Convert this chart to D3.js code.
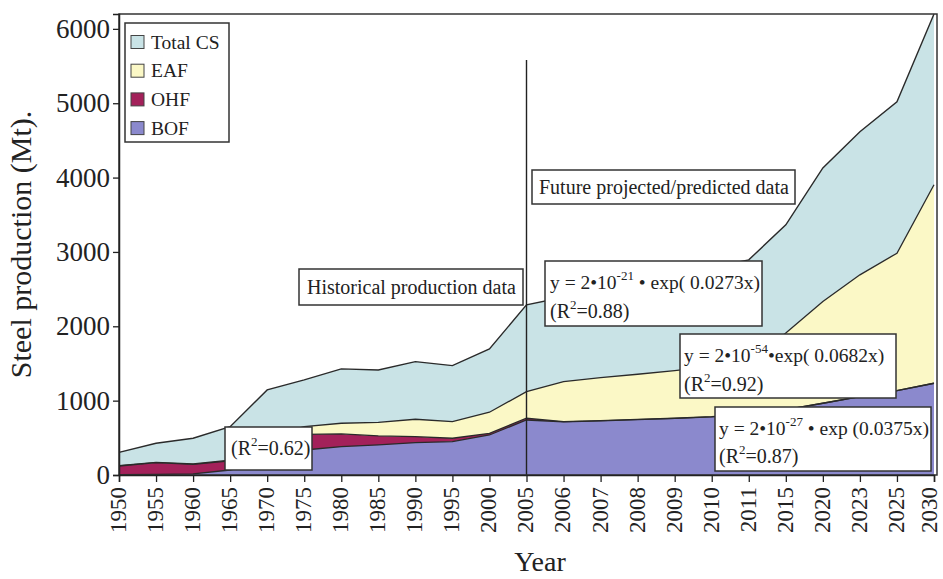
<!DOCTYPE html>
<html>
<head>
<meta charset="utf-8">
<script src="https://cdn.jsdelivr.net/npm/d3@7/dist/d3.min.js"></script>
<style>
  html, body { margin: 0; padding: 0; background: #fff; }
  svg { display: block; font-family: "Liberation Serif", "Times New Roman", serif; }
</style>
</head>
<body>
<svg id="chart" width="943" height="579"></svg>
<script>
// Year categories on the x axis (uneven spacing in real time, even on the chart)
const years = ["1950","1955","1960","1965","1970","1975","1980","1985","1990","1995","2000",
  "2005","2006","2007","2008","2009","2010","2011","2015","2020","2023","2025","2030"];

// Crude steel production, Mt
const totalCS = [305, 427, 494, 650, 1144, 1279, 1427, 1413, 1525, 1471, 1696,
  2288, 2390, 2480, 2590, 2680, 2790, 2894, 3365, 4130, 4617, 5020, 6200];
const bof = [5, 8, 15, 67, 200, 336, 381, 404, 435, 449, 538,
  740, 714, 728, 746, 761, 783, 819, 880, 965, 1054, 1135, 1234];
const ohf = [116, 158, 129, 123, 200, 211, 171, 121, 81, 45, 23,
  23, 4, 3, 3, 2, 2, 1, 0, 0, 0, 0, 0];
const eaf = [4, 4, 6, 10, 120, 103, 144, 184, 234, 224, 283,
  358, 538, 579, 606, 641, 675, 710, 1031, 1368, 1638, 1848, 2669];

const yTicks = [0, 1000, 2000, 3000, 4000, 5000, 6000];

const legendItems = [
  { key: "Total CS", color: "#c9e3e6" },
  { key: "EAF", color: "#fbf8c6" },
  { key: "OHF", color: "#a3215a" },
  { key: "BOF", color: "#8b89cd" }
];
const colorOf = Object.fromEntries(legendItems.map(d => [d.key, d.color]));

const rows = years.map((y, i) => ({ year: y, BOF: bof[i], OHF: ohf[i], EAF: eaf[i], total: totalCS[i] }));

const svg = d3.select("#chart");
const plotLeft = 119, plotRight = 937, plotTop = 14, plotBottom = 475;
const serif = "Liberation Serif, Times New Roman, serif";

const x = d3.scalePoint().domain(years).range([plotLeft, plotRight - 3]);
const y = d3.scaleLinear().domain([0, 6200]).range([plotBottom, plotTop]);

// Total area first, component layers stacked above it
const totalArea = d3.area().x(d => x(d.year)).y0(y(0)).y1(d => y(d.total));
svg.append("path").datum(rows).attr("d", totalArea).attr("fill", colorOf["Total CS"]);

const stack = d3.stack().keys(["BOF", "OHF", "EAF"]);
const layers = stack(rows);
const layerArea = d3.area().x(d => x(d.data.year)).y0(d => y(d[0])).y1(d => y(d[1]));
svg.selectAll("path.layer").data(layers).join("path")
  .attr("class", "layer")
  .attr("d", layerArea)
  .attr("fill", d => colorOf[d.key]);

// Outlines along the top of each layer
const topLine = d3.line().x(d => x(d.data.year)).y(d => y(d[1]));
svg.selectAll("path.edge").data(layers).join("path")
  .attr("class", "edge")
  .attr("d", topLine)
  .attr("fill", "none")
  .attr("stroke", "#2a2a2a")
  .attr("stroke-width", 1.3);
svg.append("path").datum(rows)
  .attr("d", d3.line().x(d => x(d.year)).y(d => y(d.total)))
  .attr("fill", "none").attr("stroke", "#2a2a2a").attr("stroke-width", 1.4);

// Divider between historical and projected data
svg.append("line")
  .attr("x1", x("2005")).attr("x2", x("2005"))
  .attr("y1", 60).attr("y2", plotBottom)
  .attr("stroke", "#222").attr("stroke-width", 1.4);

// Plot frame
svg.append("rect")
  .attr("x", plotLeft).attr("y", plotTop)
  .attr("width", plotRight - plotLeft).attr("height", plotBottom - plotTop)
  .attr("fill", "none").attr("stroke", "#333").attr("stroke-width", 1.5);

// Axes
const yAxis = d3.axisLeft(y).tickValues(yTicks).tickSize(6).tickPadding(3).tickFormat(d3.format("d"));
const gy = svg.append("g").attr("transform", `translate(${plotLeft},0)`).call(yAxis);
gy.select(".domain").attr("stroke", "#222").attr("stroke-width", 1.5);
gy.selectAll(".tick line").attr("stroke", "#222").attr("stroke-width", 1.3);
gy.selectAll(".tick text").attr("font-size", 27).attr("fill", "#222")
  .attr("font-family", serif);

const xAxis = d3.axisBottom(x).tickSize(7).tickPadding(3);
const gx = svg.append("g").attr("transform", `translate(0,${plotBottom})`).call(xAxis);
gx.select(".domain").attr("stroke", "#222").attr("stroke-width", 1.5);
gx.selectAll(".tick line").attr("stroke", "#222").attr("stroke-width", 1.3);
// The last label sits against the right edge, so it is nudged inward a little
gx.selectAll(".tick text")
  .attr("font-size", 23).attr("fill", "#222")
  .attr("font-family", serif)
  .attr("transform", (d, i, n) => (i === n.length - 1 ? "translate(-4,0) " : "") + "rotate(-90)")
  .attr("text-anchor", "end")
  .attr("dy", "0.28em")
  .attr("x", -12).attr("y", 0);

// Axis titles
svg.append("text")
  .attr("transform", `translate(31,${(plotTop + plotBottom) / 2}) rotate(-90)`)
  .attr("text-anchor", "middle")
  .attr("font-size", 30).attr("fill", "#222")
  .text("Steel production (Mt).");
svg.append("text")
  .attr("x", 540).attr("y", 571)
  .attr("text-anchor", "middle")
  .attr("font-size", 28).attr("fill", "#222")
  .text("Year");

// Legend
const lg = svg.append("g");
lg.append("rect").attr("x", 125).attr("y", 23).attr("width", 104).attr("height", 119)
  .attr("fill", "#fff").attr("stroke", "#333").attr("stroke-width", 1.5);
legendItems.forEach((d, i) => {
  const cy = 42 + i * 28.7;
  lg.append("rect").attr("x", 131).attr("y", cy - 6.5).attr("width", 13).attr("height", 13)
    .attr("fill", d.color).attr("stroke", "#444").attr("stroke-width", 1);
  lg.append("text").attr("x", 151).attr("y", cy + 6.5)
    .attr("font-size", 19.5).attr("fill", "#222").text(d.key);
});

// Annotation boxes
const noteSize = 20;
function box(x0, y0, w, h) {
  svg.append("rect").attr("x", x0).attr("y", y0).attr("width", w).attr("height", h)
    .attr("fill", "#fff").attr("stroke", "#333").attr("stroke-width", 1.5);
}
function plainText(tx, ty, s) {
  svg.append("text").attr("x", tx).attr("y", ty).attr("font-size", noteSize)
    .attr("fill", "#222").text(s);
}
function rSquared(tx, ty, val) {
  const t = svg.append("text").attr("x", tx).attr("y", ty).attr("font-size", noteSize).attr("fill", "#222");
  t.append("tspan").text("(R");
  t.append("tspan").attr("font-size", 13).attr("dy", -9).text("2");
  t.append("tspan").attr("dy", 9).text("=" + val + ")");
}
function equation(tx, ty, exponent, rate, gap) {
  const t = svg.append("text").attr("x", tx).attr("y", ty).attr("font-size", 19.5).attr("fill", "#222");
  t.append("tspan").text("y = 2\u202210");
  t.append("tspan").attr("font-size", 13).attr("dy", -9).text(exponent);
  t.append("tspan").attr("dy", 9).text(gap + "\u2022" + (gap ? " " : "") + "exp" + rate);
}

box(299, 269, 224, 36);
plainText(307, 294, "Historical production data");

box(532, 170, 263, 34);
plainText(539, 194, "Future projected/predicted data");

box(545, 261, 217, 65);
equation(550, 289, "-21", "( 0.0273x)", " ");
rSquared(550, 318, "0.88");

box(680, 334, 216, 64);
equation(684, 362, "-54", "( 0.0682x)", "");
rSquared(684, 391, "0.92");

box(715, 407, 216, 64);
equation(719, 435, "-27", " (0.0375x)", " ");
rSquared(719, 463, "0.87");

box(225, 427, 87, 43);
rSquared(231, 455, "0.62");
</script>
</body>
</html>
